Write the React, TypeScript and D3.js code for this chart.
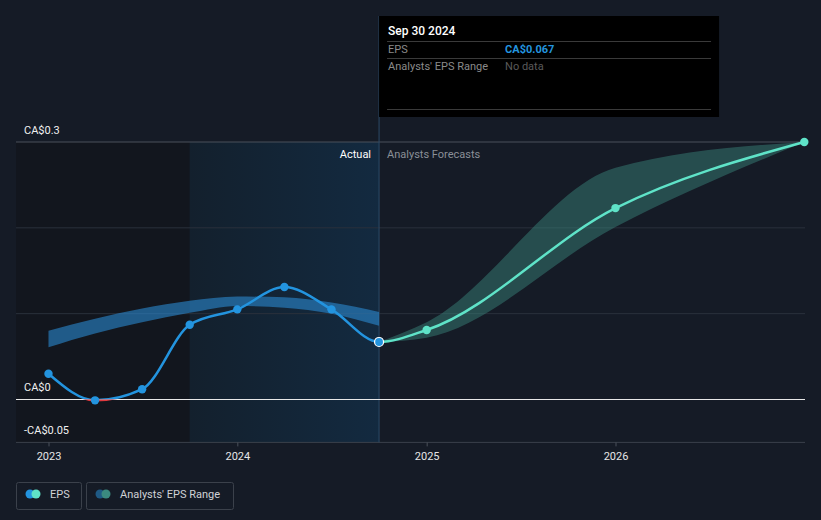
import React from 'react';
import * as d3 from 'd3';

const W = 821;
const H = 520;

// actual EPS (quarter ends)
const actualDates = ['2022-12-31', '2023-03-31', '2023-06-30', '2023-09-30', '2023-12-31', '2024-03-31', '2024-06-30', '2024-09-30'];
const actualEps = [0.03, -0.001, 0.012, 0.087, 0.105, 0.131, 0.105, 0.067];

// historic analyst range (band behind the actual line)
const pastRangeDates = ['2022-12-31', '2023-03-31', '2023-06-30', '2023-09-30', '2023-12-31', '2024-03-31', '2024-06-30', '2024-09-30'];
const pastRangeLow = [0.061, 0.077, 0.09, 0.101, 0.109, 0.107, 0.1, 0.086];
const pastRangeHigh = [0.08, 0.094, 0.106, 0.115, 0.12, 0.119, 0.113, 0.102];

// forecast
const forecastDates = ['2024-09-30', '2024-12-31', '2025-12-31', '2026-12-31'];
const forecastEps = [0.067, 0.081, 0.223, 0.3];
const forecastLow = [0.067, 0.072, 0.201, 0.3];
const forecastHigh = [0.067, 0.09, 0.27, 0.3];

const yTicks = [0.1, 0.2, 0.3];
const yLabels = [
  { v: 0.3, t: 'CA$0.3' },
  { v: 0, t: 'CA$0' },
  { v: -0.05, t: '-CA$0.05' },
];
const xTicks = ['2023-01-01', '2024-01-01', '2025-01-01', '2026-01-01'];

const FONT = "Roboto, 'Open Sans', sans-serif";
const BLUE = '#2394df';
const TEAL = '#5fe3c8';

const parse = (s: string) => new Date(s + 'T00:00:00');

export default function App() {
  const left = 16;
  const right = 805;
  const x = d3.scaleTime().domain([parse('2023-01-01'), parse('2026-01-01')]).range([49, 616]);
  const y = d3.scaleLinear().domain([-0.05, 0.3]).range([442.4, 142]);

  const actual = actualDates.map((d, i) => ({ d: parse(d), v: actualEps[i] }));
  const past = pastRangeDates.map((d, i) => ({ d: parse(d), lo: pastRangeLow[i], hi: pastRangeHigh[i] }));
  const fc = forecastDates.map((d, i) => ({ d: parse(d), v: forecastEps[i], lo: forecastLow[i], hi: forecastHigh[i] }));
  const all = [...actual, ...fc.slice(1)];

  const line = d3.line<{ d: Date; v: number }>().x((p) => x(p.d)).y((p) => y(p.v)).curve(d3.curveMonotoneX);
  const area = d3
    .area<{ d: Date; lo: number; hi: number }>()
    .x((p) => x(p.d))
    .y0((p) => y(p.lo))
    .y1((p) => y(p.hi))
    .curve(d3.curveMonotoneX);

  const xHi1 = x(parse('2023-09-30'));
  const xNow = x(parse('2024-09-30'));
  const y0 = y(0);
  const yBottom = y(-0.05);
  const yTop = y(0.3);
  const fullPath = line(all) || '';

  return (
    <div style={{ position: 'fixed', left: 0, top: 0, width: W, height: H, background: '#151b26' }}>
      <svg width={W} height={H} style={{ display: 'block', fontFamily: FONT }}>
        <defs>
          <linearGradient id="hl" x1="0" x2="1" y1="0" y2="0">
            <stop offset="0" stopColor="#13202d" />
            <stop offset="1" stopColor="#132a40" />
          </linearGradient>
          <clipPath id="pastAbove">
            <rect x={0} y={0} width={xNow} height={y0} />
          </clipPath>
          <clipPath id="pastBelow">
            <rect x={0} y={y0} width={xNow} height={H - y0} />
          </clipPath>
          <clipPath id="future">
            <rect x={xNow} y={0} width={W - xNow} height={H} />
          </clipPath>
        </defs>
        <rect width={W} height={H} fill="#151b26" />

        {/* shaded past regions */}
        <rect x={left} y={yTop} width={xHi1 - left} height={yBottom - yTop} fill="#12161e" />
        <rect x={xHi1} y={yTop} width={xNow - xHi1} height={yBottom - yTop} fill="url(#hl)" />

        {/* grid */}
        {yTicks.map((t) => (
          <line key={t} x1={left} x2={right} y1={y(t)} y2={y(t)} stroke={t === 0.3 ? '#4a505a' : '#2a313c'} strokeWidth={1} />
        ))}
        <line x1={left} x2={right} y1={yBottom} y2={yBottom} stroke="#3a404a" strokeWidth={1} />
        {xTicks.map((t) => (
          <g key={t}>
            <line x1={x(parse(t))} x2={x(parse(t))} y1={yBottom} y2={yBottom + 4} stroke="#4a505a" />
            <text x={x(parse(t))} y={460} textAnchor="middle" fontSize={11} fill="#e6e6e6">
              {t.slice(0, 4)}
            </text>
          </g>
        ))}

        {yLabels.map((l) => (
          <text key={l.t} x={24} y={y(l.v) - 8} fontSize={11} fill="#f0f0f0">
            {l.t}
          </text>
        ))}

        {/* tooltip vertical line */}
        <line x1={xNow} x2={xNow} y1={16} y2={yBottom} stroke="#2c4a66" strokeWidth={1} />

        <text x={xNow - 8} y={158} textAnchor="end" fontSize={11} fill="#ffffff">Actual</text>
        <text x={xNow + 8} y={158} fontSize={11} fill="#8a8f97">Analysts Forecasts</text>

        {/* past analyst band */}
        <path d={area(past) || ''} fill="#2a86cc" fillOpacity={0.62} />

        {/* forecast band */}
        <path d={area(fc) || ''} fill="#3c8c80" fillOpacity={0.45} />

        {/* zero line */}
        <line x1={left} x2={right} y1={y0} y2={y0} stroke="#e8e8e8" strokeWidth={1.2} />

        {/* EPS line: blue past, red below zero, teal forecast */}
        <path d={fullPath} fill="none" stroke={BLUE} strokeWidth={2.5} clipPath="url(#pastAbove)" />
        <path d={fullPath} fill="none" stroke="#e0393e" strokeWidth={2.5} clipPath="url(#pastBelow)" />
        <path d={fullPath} fill="none" stroke={TEAL} strokeWidth={2.5} clipPath="url(#future)" />

        {actual.slice(0, -1).map((p, i) => (
          <circle key={i} cx={x(p.d)} cy={y(p.v)} r={4.2} fill={BLUE} />
        ))}
        {fc.slice(1).map((p, i) => (
          <circle key={i} cx={x(p.d)} cy={y(p.v)} r={4.2} fill={TEAL} />
        ))}
        <circle cx={xNow} cy={y(actualEps[actualEps.length - 1])} r={4.5} fill={BLUE} stroke="#ffffff" strokeWidth={1.2} />

        {/* tooltip */}
        <g>
          <rect x={xNow} y={16} width={340} height={101} fill="#000000" />
          <text x={xNow + 9} y={35} fontSize={12} fontWeight={500} fill="#ffffff">Sep 30 2024</text>
          <line x1={xNow + 8} x2={xNow + 332} y1={41.5} y2={41.5} stroke="#3a3a3a" />
          <text x={xNow + 9} y={53} fontSize={11} fill="#8a8a8a">EPS</text>
          <text x={xNow + 126} y={53} fontSize={11} fontWeight={700} fill={BLUE}>CA$0.067</text>
          <line x1={xNow + 8} x2={xNow + 332} y1={58.5} y2={58.5} stroke="#3a3a3a" />
          <text x={xNow + 9} y={70} fontSize={11} fill="#8a8a8a">Analysts' EPS Range</text>
          <text x={xNow + 126} y={70} fontSize={11} fill="#5a5a5a">No data</text>
          <line x1={xNow + 8} x2={xNow + 332} y1={109.5} y2={109.5} stroke="#3a3a3a" />
        </g>

        {/* legend */}
        <g>
          <rect x={16.5} y={482.5} width={65} height={27} rx={2} fill="none" stroke="#3b414b" />
          <circle cx={30} cy={494} r={4.5} fill={BLUE} />
          <circle cx={36} cy={494} r={4.5} fill={TEAL} />
          <text x={50} y={498} fontSize={11} fill="#d0d2d6">EPS</text>
          <rect x={86.5} y={482.5} width={147} height={27} rx={2} fill="none" stroke="#3b414b" />
          <circle cx={100} cy={494} r={4.5} fill="#1f5a85" />
          <circle cx={106} cy={494} r={4.5} fill="#3b8a80" />
          <text x={120} y={498} fontSize={11} fill="#d0d2d6">Analysts' EPS Range</text>
        </g>
      </svg>
    </div>
  );
}
